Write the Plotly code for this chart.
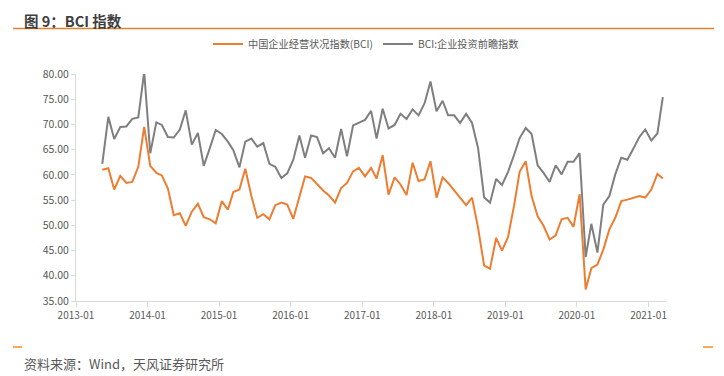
import pandas as pd
import plotly.graph_objects as go

# ---- data (monthly, 2013-05 .. 2021-03) ----
start_month = "2013-05"
n_months = 95
bci = [61.0, 61.3, 57.1, 59.8, 58.4, 58.6, 61.6, 69.5, 61.8, 60.4,
       59.9, 57.3, 52.0, 52.4, 49.9, 52.7, 54.3, 51.6, 51.2, 50.4,
       54.8, 53.1, 56.6, 57.1, 61.2, 55.8, 51.5, 52.2, 51.2, 54.0,
       54.5, 54.1, 51.3, 55.5, 59.7, 59.4, 58.1, 56.9, 55.9, 54.5,
       57.4, 58.4, 60.7, 61.4, 59.7, 61.4, 59.3, 63.9, 56.1, 59.5,
       58.1, 56.0, 62.4, 58.8, 59.1, 62.7, 55.5, 59.5, 58.4, 56.9,
       55.5, 54.0, 55.5, 49.5, 42.0, 41.4, 47.5, 45.0, 47.7, 54.0,
       60.6, 62.7, 55.8, 51.8, 49.9, 47.2, 48.0, 51.2, 51.5, 49.7,
       56.2, 37.3, 41.5, 42.2, 45.2, 49.2, 51.5, 54.8, 55.1, 55.5,
       55.8, 55.5, 57.1, 60.2, 59.3]
invest = [62.2, 71.5, 67.1, 69.5, 69.6, 71.1, 71.4, 80.4, 64.3, 70.4,
          69.9, 67.5, 67.4, 69.0, 72.8, 66.0, 68.3, 61.8, 65.3, 68.9,
          68.1, 66.6, 64.9, 61.5, 66.6, 67.2, 65.6, 66.3, 62.2, 61.6,
          59.4, 60.3, 63.0, 67.8, 63.4, 67.8, 67.5, 64.3, 65.3, 63.4,
          69.1, 63.7, 69.8, 70.3, 70.9, 72.7, 67.2, 73.1, 69.2, 69.9,
          72.1, 71.1, 73.0, 71.8, 74.2, 78.5, 72.6, 74.7, 71.8, 71.8,
          70.3, 72.1, 70.3, 65.3, 55.5, 54.5, 59.2, 58.0, 60.6, 64.0,
          67.3, 69.3, 68.1, 61.9, 60.4, 58.6, 61.9, 60.1, 62.6, 62.6,
          64.3, 43.7, 50.3, 44.6, 54.1, 55.8, 60.1, 63.4, 63.0, 65.2,
          67.5, 69.0, 66.8, 68.2, 75.4]
series_names = ["中国企业经营状况指数(BCI)", "BCI:企业投资前瞻指数"]
y_ticks = [35, 40, 45, 50, 55, 60, 65, 70, 75, 80]

dates = pd.date_range(start=start_month + "-01", periods=n_months, freq="MS") + pd.Timedelta(days=14)

# ---- layout geometry (page has an 8px body margin, so figure is 716x368) ----
W, H = 716, 368
L, R, T, B = 68, 58, 66, 75
PW, PH = W - L - R, H - T - B


def px(x):
    return (x - L) / PW


def py(y):
    return (H - B - y) / PH


ORANGE = "#ED7D31"
GRAY = "#7F7F7F"
TXT = "#595959"
AX = "#D9D9D9"
FONT = "Noto Sans CJK SC"

fig = go.Figure()
fig.add_trace(go.Scatter(x=dates, y=bci, name=series_names[0], mode="lines",
                         line=dict(color=ORANGE, width=2)))
fig.add_trace(go.Scatter(x=dates, y=invest, name=series_names[1], mode="lines",
                         line=dict(color=GRAY, width=2)))

fig.update_layout(
    width=W, height=H,
    margin=dict(l=L, r=R, t=T, b=B, pad=0),
    paper_bgcolor="white", plot_bgcolor="white",
    font=dict(family=FONT, color=TXT, size=11),
    showlegend=True,
    legend=dict(orientation="h", x=px(200), y=py(36), xanchor="left", yanchor="middle",
                font=dict(size=10.2, color=TXT, family=FONT), itemwidth=30,
                bgcolor="rgba(0,0,0,0)"),
    xaxis=dict(type="date", range=["2013-01-01", "2021-03-31"],
               tick0="2013-01-01", dtick="M12", tickformat="%Y-%m",
               showgrid=False, showline=True, linecolor=AX, linewidth=1,
               ticks="outside", ticklen=5, tickcolor=AX,
               tickfont=dict(size=10, color=TXT, family=FONT), zeroline=False),
    yaxis=dict(range=[35, 80], tickvals=y_ticks, tickformat=".2f",
               showgrid=False, showline=True, linecolor=AX, linewidth=1,
               ticks="outside", ticklen=4, tickcolor=AX,
               tickfont=dict(size=10.5, color=TXT, family=FONT), zeroline=False),
)

# title and decorations
fig.add_annotation(text="<b>图 9：BCI 指数</b>", xref="paper", yref="paper",
                   x=px(14), y=py(0), xanchor="left", yanchor="top", showarrow=False,
                   font=dict(size=14.5, color="#3F3F3F", family=FONT))
fig.add_shape(type="line", xref="paper", yref="paper", x0=px(5), x1=px(706),
              y0=py(20.5), y1=py(20.5), line=dict(color="#E0822F", width=1.5))
fig.add_shape(type="line", xref="paper", yref="paper", x0=px(5), x1=px(14),
              y0=py(339), y1=py(339), line=dict(color="#F0901E", width=1.5))
fig.add_shape(type="line", xref="paper", yref="paper", x0=px(695), x1=px(705),
              y0=py(339), y1=py(339), line=dict(color="#F0901E", width=1.5))
fig.add_annotation(text="资料来源：Wind，天风证券研究所", xref="paper", yref="paper",
                   x=px(14), y=py(355), xanchor="left", yanchor="middle", showarrow=False,
                   font=dict(size=13, color=TXT, family=FONT))

fig.write_html("out.html")
